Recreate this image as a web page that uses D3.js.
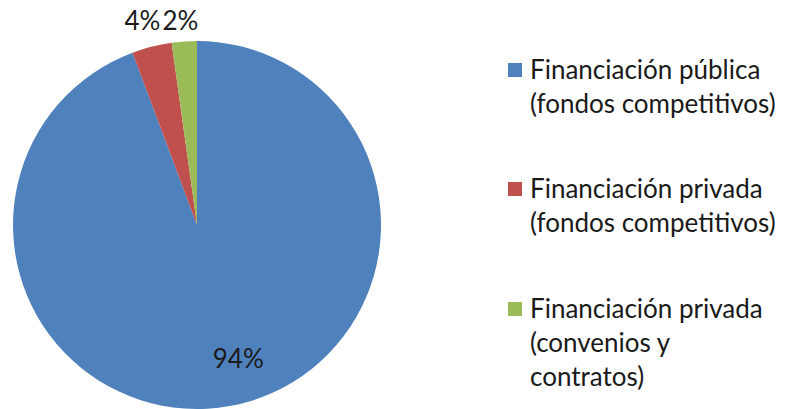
<!DOCTYPE html>
<html>
<head>
<meta charset="utf-8">
<script src="https://cdn.jsdelivr.net/npm/d3@7"></script>
<style>
  body { margin: 0; background: #fff; }
  text { font-family: Lato, "Open Sans", sans-serif; fill: #1a1a1a; }
</style>
</head>
<body>
<svg width="789" height="409"></svg>
<script>
// data
var categories = ["Financiación pública (fondos competitivos)",
                  "Financiación privada (fondos competitivos)",
                  "Financiación privada (convenios y contratos)"];
var legendLines = [["Financiación pública", "(fondos competitivos)"],
                   ["Financiación privada", "(fondos competitivos)"],
                   ["Financiación privada", "(convenios y", "contratos)"]];
var values = [94.3, 3.5, 2.2];
var labels = ["94%", "4%", "2%"];
var colors = ["#4F81BD", "#C0504D", "#9BBB59"];

function init() {
    var svg = d3.select("svg");

    var cx = 197, cy = 225, radius = 184;
    var fontSize = 26;

    var pie = d3.pie().sort(null);
    var arc = d3.arc().innerRadius(0).outerRadius(radius);
    var innerLabelArc = d3.arc().innerRadius(136).outerRadius(136);
    var outerLabelArc = d3.arc().innerRadius(212).outerRadius(212);

    var g = svg.append("g")
        .attr("transform", "translate(" + cx + "," + cy + ")");

    var slices = pie(values);

    g.selectAll("path")
        .data(slices)
        .enter()
        .append("path")
        .attr("fill", function(d, i) { return colors[i]; })
        .attr("d", arc);

    // inside label for the big slice
    var c0 = innerLabelArc.centroid(slices[0]);
    g.append("text")
        .attr("x", c0[0] + 17)
        .attr("y", c0[1])
        .attr("dy", "0.35em")
        .attr("text-anchor", "middle")
        .style("font-size", fontSize + "px")
        .text(labels[0]);

    // outside labels for the small slices, pushed apart so they don't overlap
    var outerY = -cy + 30;
    var right = outerLabelArc.centroid(slices[2])[0] + 16;
    for (var i = slices.length - 1; i >= 1; i--) {
        var t = g.append("text")
            .attr("y", outerY)
            .attr("text-anchor", "end")
            .style("font-size", fontSize + "px")
            .text(labels[i]);
        var c = outerLabelArc.centroid(slices[i]);
        var w = t.node().getComputedTextLength();
        var x = Math.min(right, c[0] + w / 2);
        t.attr("x", x);
        right = x - w - 2;
    }

    // legend
    var legendY = [79, 198, 318];
    var lineH = 34;
    var legend = svg.selectAll("g.legend")
        .data(categories)
        .enter()
        .append("g")
        .attr("class", "legend")
        .attr("transform", function(d, i) { return "translate(508," + legendY[i] + ")"; });

    legend.append("rect")
        .attr("x", 0)
        .attr("y", -16)
        .attr("width", 14)
        .attr("height", 14)
        .attr("fill", function(d, i) { return colors[i]; });

    legend.append("text")
        .style("font-size", fontSize + "px")
        .selectAll("tspan")
        .data(function(d, i) { return legendLines[i]; })
        .enter()
        .append("tspan")
        .attr("x", 22)
        .attr("y", function(d, j) { return j * lineH; })
        .text(function(d) { return d; });
}
window.onload = init;
</script>
</body>
</html>
